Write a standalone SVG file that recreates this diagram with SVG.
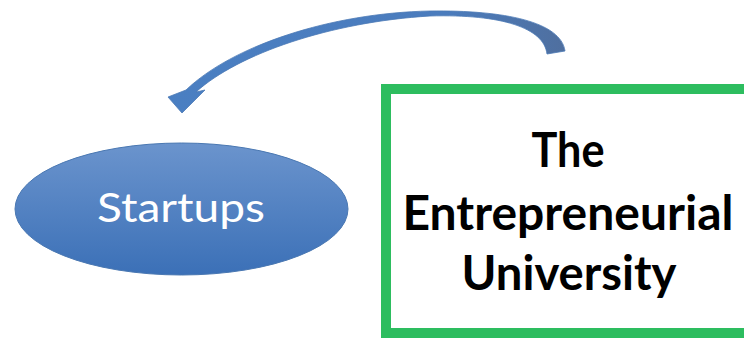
<svg xmlns="http://www.w3.org/2000/svg" width="744" height="340" viewBox="0 0 744 340">
<style>
.lbl{font-family:Lato,"Open Sans","Liberation Sans",sans-serif;}
.big{font-size:47px;font-weight:bold;fill:#000;}
.st{font-size:41px;fill:#fff;}
</style>
<defs>
<linearGradient id="eg" x1="0" y1="0" x2="0" y2="1">
<stop offset="0" stop-color="#6b94cd"/>
<stop offset="1" stop-color="#3b70b7"/>
</linearGradient>
<linearGradient id="ag" x1="0" y1="0" x2="1" y2="0">
<stop offset="0" stop-color="#4a7fc2"/>
<stop offset="0.7" stop-color="#4b7cbd"/>
<stop offset="1" stop-color="#4f6f9f"/>
</linearGradient>
</defs>
<rect width="744" height="340" fill="#fff"/>
<g id="connectors">
<path d="M565,51 C561,22 505,10 430,11 C330,13 232,46 186,90 L168,97 L182,113 L205,90 L196,92 C238,54 330,22 430,16 C502,14 544,28 547,54 Z" fill="url(#ag)" stroke="#4a78b5" stroke-width="0.8"/>
</g>
<g id="startups">
<ellipse cx="181.5" cy="209" rx="166.5" ry="66" fill="url(#eg)" stroke="#4a78b2" stroke-width="1"/>
<text class="lbl st" x="181" y="222" text-anchor="middle" textLength="168" lengthAdjust="spacingAndGlyphs">Startups</text>
</g>
<g id="university">
<rect x="386" y="89" width="380" height="244" fill="#fff" stroke="#2dbd5f" stroke-width="10"/>
<text class="lbl big" x="568" y="167" text-anchor="middle" textLength="73" lengthAdjust="spacingAndGlyphs">The</text>
<text class="lbl big" x="568" y="230" text-anchor="middle" textLength="331" lengthAdjust="spacingAndGlyphs">Entrepreneurial</text>
<text class="lbl big" x="569" y="290" text-anchor="middle" textLength="215" lengthAdjust="spacingAndGlyphs">University</text>
</g>
</svg>
